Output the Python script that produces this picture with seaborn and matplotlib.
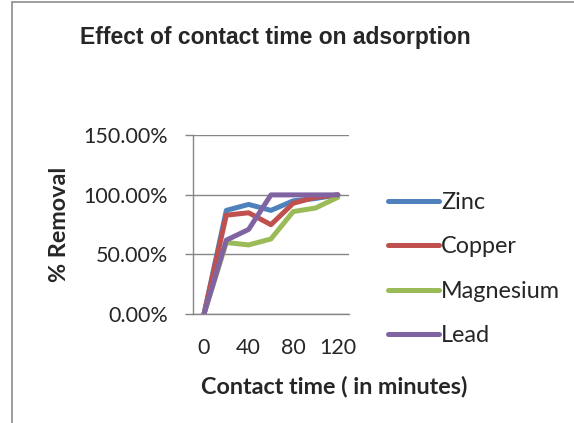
import matplotlib
matplotlib.use("Agg")
import matplotlib.pyplot as plt
from matplotlib.patches import Rectangle
from matplotlib.ticker import FixedLocator, PercentFormatter
import seaborn as sns
import pandas as pd

# contact time (minutes) and fraction removed per metal
minutes = [0, 20, 40, 60, 80, 100, 120]
zinc = [0.0, 0.87, 0.92, 0.87, 0.95, 0.97, 1.0]
copper = [0.0, 0.83, 0.85, 0.75, 0.93, 0.98, 1.0]
magnesium = [0.0, 0.60, 0.58, 0.63, 0.86, 0.89, 0.98]
lead = [0.0, 0.62, 0.71, 1.0, 1.0, 1.0, 1.0]

metals = ["Zinc", "Copper", "Magnesium", "Lead"]
colors = ["#4F81BD", "#C0504D", "#9BBB59", "#8064A2"]

rows = []
for name, vals in zip(metals, [zinc, copper, magnesium, lead]):
    for t, v in zip(minutes, vals):
        rows.append({"time": t, "removal": v, "metal": name})
df = pd.DataFrame(rows)

sns.set_style("white")
plt.rcParams['font.family'] = ['Lato', 'DejaVu Sans']

fig = plt.figure(figsize=(5.74, 4.23), dpi=100)
ax = fig.add_axes([0.336, 0.2577, 0.272, 0.4223])

# chart border (cropped at right and bottom like the source)
fig.patches.append(Rectangle((12 / 574, -0.05), 1.2, 1 - 2 / 423 + 0.05,
                             transform=fig.transFigure, fill=False,
                             edgecolor="#8c8c8c", lw=1.2))

sns.lineplot(data=df, x="time", y="removal", hue="metal", palette=colors,
             hue_order=metals, lw=3.6, ax=ax, legend=False)

gray = "#868686"
fs = 15.5
ax.set_xlim(-10, 130)
ax.set_ylim(0, 1.5)
ax.yaxis.set_major_locator(FixedLocator([0, 0.5, 1.0, 1.5]))
ax.yaxis.set_major_formatter(PercentFormatter(1.0, decimals=2))
ax.grid(axis="y", color=gray, lw=1)
ax.set_axisbelow(True)

ax.xaxis.set_major_locator(FixedLocator([0, 40, 80, 120]))
ax.xaxis.set_minor_locator(FixedLocator(list(range(-10, 140, 20))))
ax.tick_params(axis="x", which="major", length=0, pad=17, labelsize=fs)
ax.tick_params(axis="x", which="minor", length=5, color=gray, width=1,
               direction="out")
ax.tick_params(axis="y", length=6, color=gray, width=1, direction="out",
               pad=12, labelsize=fs, left=True)

for side in ["top", "right"]:
    ax.spines[side].set_visible(False)
for side in ["left", "bottom"]:
    ax.spines[side].set_color(gray)
    ax.spines[side].set_linewidth(1)

ax.set_xlabel("Contact time ( in minutes)", fontsize=16.8, fontweight="bold")
ax.set_ylabel("% Removal", fontsize=16.8, fontweight="bold")
ax.xaxis.set_label_coords(0.904, -0.345)
ax.yaxis.set_label_coords(-0.79, 0.5)

fig.text(0.479, 0.912, "Effect of contact time on adsorption",
         ha="center", va="center", fontsize=16.5, fontweight="bold",
         family="Liberation Sans")

handles = [plt.Line2D([], [], color=c, lw=3.6, solid_capstyle="round")
           for c in colors]
fig.legend(handles, metals, loc="center left", bbox_to_anchor=(0.655, 0.364),
           frameon=False, fontsize=16.8, handlelength=2.2, handletextpad=0.1,
           labelspacing=1.0, borderpad=0)

fig.savefig("out.png", dpi=100)
